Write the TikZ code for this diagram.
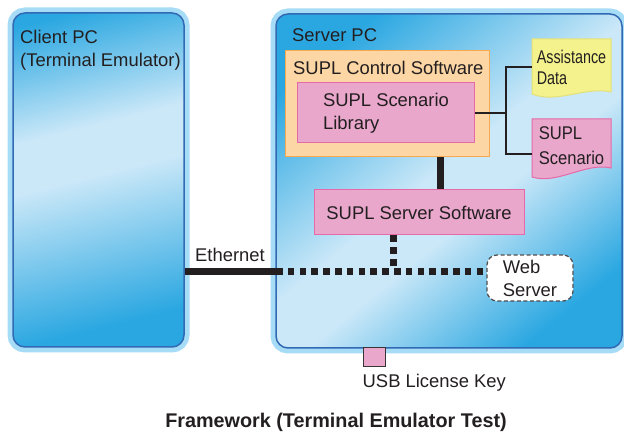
\documentclass[tikz,border=0pt]{standalone}
\usepackage{fontspec}
\setmainfont{Liberation Sans}
\newfontfamily\narrowA{Liberation Sans}[FakeStretch=0.78]
\newfontfamily\narrowB{Liberation Sans}[FakeStretch=0.9]
\usetikzlibrary{positioning}

\definecolor{ink}{RGB}{35,31,32}
\definecolor{pcblue}{RGB}{42,167,225}
\definecolor{pclight}{RGB}{203,232,248}
\definecolor{pcborder}{RGB}{50,105,180}
\definecolor{pcrim}{RGB}{166,220,246}
\definecolor{ctrlfill}{RGB}{252,214,164}
\definecolor{ctrlline}{RGB}{246,169,78}
\definecolor{pinkfill}{RGB}{232,167,203}
\definecolor{pinkline}{RGB}{230,106,168}
\definecolor{yellowfill}{RGB}{244,242,140}
\definecolor{yellowline}{RGB}{228,224,120}

% light band across the PC boxes
\pgfdeclarehorizontalshading{clientglass}{100bp}{color(0bp)=(pcblue); color(22bp)=(pcblue);
  color(41bp)=(pclight); color(49bp)=(pclight); color(74bp)=(pcblue); color(100bp)=(pcblue)}
\pgfdeclarehorizontalshading{serverglass}{100bp}{color(0bp)=(pcblue); color(24bp)=(pcblue);
  color(44bp)=(pclight); color(52bp)=(pclight); color(76bp)=(pcblue); color(100bp)=(pcblue)}

\begin{document}
\begin{tikzpicture}[x=1pt,y=-1pt,
  font=\fontsize{18.4}{23}\selectfont,
  every node/.style={text=ink},
  pc/.style={draw=pcborder,line width=1.5pt,rounded corners=12pt,
             preaction={draw=pcrim,line width=11pt}},
  lbl/.style={inner sep=0pt},
  ctrlbox/.style={draw=ctrlline,line width=1pt,fill=ctrlfill},
  pinkbox/.style={draw=pinkline,line width=1pt,fill=pinkfill},
  yellowdoc/.style={draw=yellowline,line width=1pt,fill=yellowfill},
  pinkdoc/.style={draw=pinkline,line width=1pt,fill=pinkfill},
  webbox/.style={draw=ink!80,line width=1.2pt,dash pattern=on 4pt off 2.5pt,
                 fill=white,rounded corners=10pt,align=left},
  usbkey/.style={draw=ink!90,line width=1pt,fill=pinkfill,inner sep=0pt,
                 minimum width=22pt,minimum height=19pt},
  link/.style={line width=2pt,ink},
  bus/.style={line width=7pt,ink},
  ether/.style={line width=7pt,ink},
  lan/.style={line width=7pt,ink,dash pattern=on 6.5pt off 5.3pt}]

  \useasboundingbox (0,0) rectangle (624,438);

  % The two PCs
  \node[pc,shading=clientglass,shading angle=-76,minimum width=171pt,minimum height=334pt] (client) at (98.5,180) {};
  \node[pc,shading=serverglass,shading angle=129,minimum width=346pt,minimum height=334pt] (server) at (449,181) {};
  \node[lbl,anchor=north west,align=left] (clientname) at (20,30) {Client PC\\(Terminal Emulator)};
  \node[lbl,anchor=base west] (servername) at (292,42) {Server PC};

  % Software blocks inside the server
  \node[ctrlbox,minimum width=204pt,minimum height=106pt] (ctrl) at (387,104) {};
  \node[lbl,anchor=base west] (ctrlname) at (293,75) {SUPL Control Software};
  \node[pinkbox,minimum width=177pt,minimum height=60pt,align=left] (library) at (386,113) {SUPL Scenario\\Library};
  \node[pinkbox,minimum width=210pt,minimum height=45pt] (srvsw) at (419,212.5) {SUPL Server Software};

  % Documents with a wavy bottom edge
  \filldraw[yellowdoc] (532,39) -- (611,39) -- (611,92) .. controls +(-25,-6) and +(25,10) .. (532,94) -- cycle;
  \filldraw[pinkdoc] (532,119) -- (611,119) -- (611,168) .. controls +(-25,-6) and +(25,8) .. (532,177) -- cycle;
  \node[lbl,font=\narrowA\fontsize{18.4}{21}\selectfont,align=left,minimum width=79pt] (assist) at (571.5,67) {Assistance\\Data};
  \node[lbl,font=\narrowB\fontsize{18.4}{25}\selectfont,align=left,minimum width=79pt] (scn) at (571.5,146) {SUPL\\Scenario};

  % Library to its data files
  \draw[link] (library.east) -- ++(31,0) coordinate (fork);
  \draw[link] (assist.west) -| (fork) |- ([yshift=-8pt]scn.west);

  % Control software to server software
  \coordinate (busx) at (440,0);
  \draw[bus] (ctrl.south -| busx) -- (srvsw.north -| busx);

  % Network
  \node[webbox,minimum width=86pt,minimum height=46pt] (web) at (530,278) {Web\\Server};
  \coordinate (lanjoin) at (276,271.5);
  \coordinate (tap) at (393,268);
  \draw[ether] (client.east |- lanjoin) -- (lanjoin);
  \draw[lan] (lanjoin) -- (lanjoin -| web.west);
  \draw[lan] (srvsw.south -| tap) -- (tap);
  \node[lbl,anchor=base west] (ethname) at (195,262) {Ethernet};

  % USB key
  \node[usbkey] (usb) at (374,357.5) {};
  \node[lbl,below right=6pt and 0pt of usb.south west] (usbname) {USB License Key};

  \node[lbl,anchor=base,font=\bfseries\fontsize{19.8}{23}\selectfont] (caption) at (336,427) {Framework (Terminal Emulator Test)};
\end{tikzpicture}
\end{document}
